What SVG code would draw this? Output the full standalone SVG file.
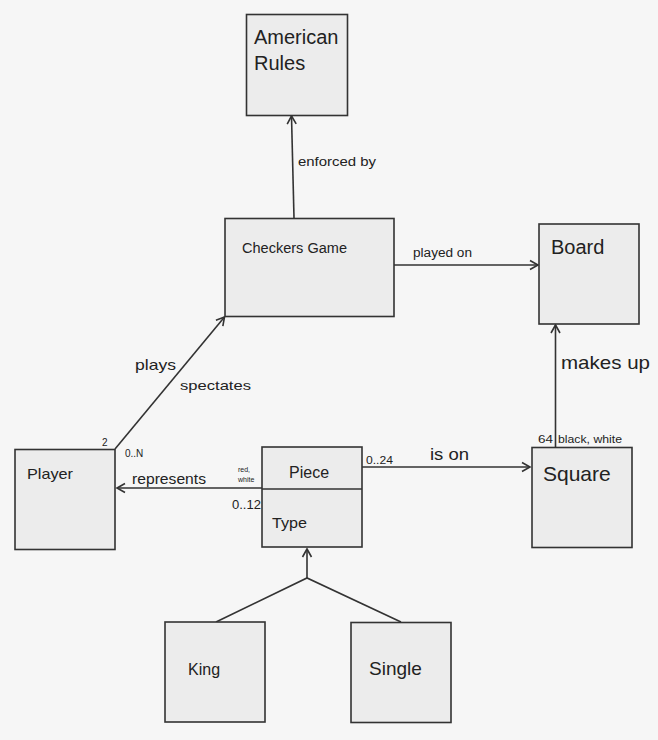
<svg xmlns="http://www.w3.org/2000/svg" width="658" height="740" viewBox="0 0 658 740">
<style>
.box{fill:#ececec;stroke:#333;stroke-width:1.6}
.ln{stroke:#333;stroke-width:1.6;fill:none}
text{font-family:"Liberation Sans","Noto Sans",sans-serif;fill:#222}
</style>
<defs>
<marker id="arr" markerWidth="12" markerHeight="12" refX="10" refY="6" orient="auto" markerUnits="userSpaceOnUse">
<path d="M2,1.5 L10,6 L2,10.5" fill="none" stroke="#333" stroke-width="1.6"/>
</marker>
</defs>
<rect width="658" height="740" fill="#f6f6f6"/>
<g id="connectors">
<line class="ln" x1="294" y1="218" x2="291.5" y2="116" marker-end="url(#arr)"/>
<text x="298" y="166" font-size="13" textLength="78" lengthAdjust="spacingAndGlyphs">enforced by</text>
<line class="ln" x1="394" y1="265" x2="538" y2="265" marker-end="url(#arr)"/>
<text x="413" y="257" font-size="12" textLength="59" lengthAdjust="spacingAndGlyphs">played on</text>
<line class="ln" x1="555.5" y1="447" x2="555.5" y2="325" marker-end="url(#arr)"/>
<text x="561" y="369" font-size="19" textLength="89" lengthAdjust="spacingAndGlyphs">makes up</text>
<line class="ln" x1="115" y1="449" x2="224.5" y2="317" marker-end="url(#arr)"/>
<text x="135" y="370" font-size="15" textLength="41" lengthAdjust="spacingAndGlyphs">plays</text>
<text x="180" y="390" font-size="13" textLength="71" lengthAdjust="spacingAndGlyphs">spectates</text>
<text x="102" y="446" font-size="10">2</text>
<text x="125" y="457" font-size="10">0..N</text>
<line class="ln" x1="262" y1="488" x2="117" y2="488" marker-end="url(#arr)"/>
<text x="132" y="484" font-size="14" textLength="74" lengthAdjust="spacingAndGlyphs">represents</text>
<text x="238" y="472" font-size="7">red,</text>
<text x="238" y="482" font-size="7">white</text>
<text x="232" y="509" font-size="12" textLength="29" lengthAdjust="spacingAndGlyphs">0..12</text>
<line class="ln" x1="362" y1="467" x2="530" y2="467" marker-end="url(#arr)"/>
<text x="366" y="464" font-size="10" textLength="27" lengthAdjust="spacingAndGlyphs">0..24</text>
<text x="430" y="460" font-size="16" textLength="39" lengthAdjust="spacingAndGlyphs">is on</text>
<text x="538" y="443" font-size="10.5" textLength="15" lengthAdjust="spacingAndGlyphs">64</text>
<text x="558" y="443" font-size="10.5" textLength="64" lengthAdjust="spacingAndGlyphs">black, white</text>
<polyline class="ln" points="216,622 307,578 401,622"/>
<line class="ln" x1="307" y1="578" x2="307" y2="549" marker-end="url(#arr)"/>
</g>
<g id="american-rules">
<rect class="box" x="246.5" y="14.5" width="101" height="101"/>
<text x="254" y="44" font-size="20">American</text>
<text x="254" y="70" font-size="20">Rules</text>
</g>
<g id="checkers-game">
<rect class="box" x="225" y="218.5" width="169" height="98"/>
<text x="242" y="253" font-size="14" textLength="105" lengthAdjust="spacingAndGlyphs">Checkers Game</text>
</g>
<g id="board">
<rect class="box" x="539" y="224" width="100" height="100"/>
<text x="551" y="254" font-size="20">Board</text>
</g>
<g id="player">
<rect class="box" x="15" y="449.5" width="100" height="100"/>
<text x="27" y="479" font-size="15" textLength="46" lengthAdjust="spacingAndGlyphs">Player</text>
</g>
<g id="piece">
<rect class="box" x="262" y="447" width="100" height="100"/>
<line class="ln" x1="262" y1="489" x2="362" y2="489"/>
<text x="289" y="478" font-size="16">Piece</text>
<text x="272" y="528" font-size="14" textLength="35" lengthAdjust="spacingAndGlyphs">Type</text>
</g>
<g id="square">
<rect class="box" x="532" y="447.5" width="100" height="100"/>
<text x="543" y="481" font-size="21">Square</text>
</g>
<g id="king">
<rect class="box" x="165" y="622" width="100" height="100"/>
<text x="188" y="675" font-size="16">King</text>
</g>
<g id="single">
<rect class="box" x="351" y="622.5" width="100" height="100"/>
<text x="369" y="675" font-size="19">Single</text>
</g>
</svg>
